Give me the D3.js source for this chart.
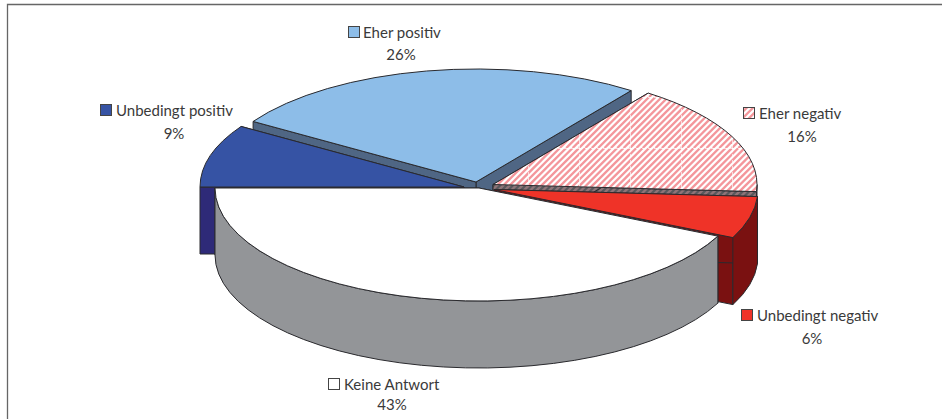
<!DOCTYPE html>
<html>
<head>
<meta charset="utf-8">
<script src="https://cdnjs.cloudflare.com/ajax/libs/d3/7.8.5/d3.min.js"></script>
<style>
  html, body { margin: 0; padding: 0; background: #fff; }
  svg { display: block; }
  text { font-family: Lato, "Open Sans", sans-serif; font-size: 15px; fill: #3a3a3a; }
</style>
</head>
<body>
<svg id="chart" width="942" height="419"></svg>
<script>
// Survey answers, in drawing order around the pie
const categories = ["Keine Antwort", "Unbedingt negativ", "Eher negativ", "Eher positiv", "Unbedingt positiv"];
const shares = [43, 6, 16, 26, 9];
const shareLabels = ["43%", "6%", "16%", "26%", "9%"];

const svg = d3.select("#chart");

// Appearance of each slice, same order as the categories
const topColors = ["#ffffff", "#ef3328", "url(#hatch)", "#8dbde8", "#3653a4"];
const sideColors = ["#939598", "#7a1111", "url(#hatchSide)", "#4f6684", "#2e2a78"];

// Pie geometry: flattened ellipse, extruded downwards
const rx = 264, ry = 113, depth = 67;
const centers = [[479, 188], [494, 189.5], [493, 184.5], [476, 182], [464, 187]];

// Label anchors: key box left edge, text start, centre of the percentage line
const labelPos = [
  { key: 328, text: 344, y: 384, pctX: 392, pctY: 404 },
  { key: 741, text: 757, y: 315, pctX: 812, pctY: 338 },
  { key: 743, text: 759, y: 113, pctX: 802, pctY: 136 },
  { key: 348, text: 363, y: 32,  pctX: 401, pctY: 54 },
  { key: 100, text: 116, y: 110, pctX: 174, pctY: 133 }
];

// Diagonal stripe fills; the top surface also carries faint dashed tile seams
const defs = svg.append("defs");
function stripes(id, bg, fg, seams) {
  const p = defs.append("pattern").attr("id", id)
    .attr("patternUnits", "userSpaceOnUse").attr("width", 51).attr("height", 51)
    .attr("x", 528 - 51).attr("y", 148 - 51);
  p.append("rect").attr("width", 51).attr("height", 51).attr("fill", bg);
  d3.range(-51, 102, 51 / 8).forEach(o => {
    p.append("line").attr("x1", o).attr("y1", 51).attr("x2", o + 51).attr("y2", 0)
      .attr("stroke", fg).attr("stroke-width", 2.3);
  });
  if (seams) {
    p.append("path").attr("d", "M0.5,0V51M0,0.5H51").attr("fill", "none")
      .attr("stroke", "#fff").attr("stroke-width", 0.8).attr("stroke-opacity", 0.8)
      .attr("stroke-dasharray", "4 2");
  }
}
stripes("hatch", "#fff", "#f4969b", true);
stripes("hatchSide", "#58585c", "#8f7478", false);

// Frame: only the top and left rules are present
svg.append("path").attr("d", "M942,4.5H7.5V419").attr("fill", "none")
  .attr("stroke", "#666").attr("stroke-width", 1.3);

// Angles run counter-clockwise starting at nine o'clock
const arcs = d3.pie().sort(null).startAngle(-Math.PI / 2).endAngle(-Math.PI / 2 - 2 * Math.PI)(shares);
const pt = (c, a, dy = 0) => [c[0] + rx * Math.sin(a), c[1] - ry * Math.cos(a) + dy];

function topPath(c, a0, a1) {
  const p0 = pt(c, a0), p1 = pt(c, a1);
  const large = Math.abs(a1 - a0) > Math.PI ? 1 : 0;
  return `M${c}L${p0}A${rx},${ry} 0 ${large} 0 ${p1}Z`;
}
function cutPath(c, a) {
  const p = pt(c, a), q = pt(c, a, depth);
  return `M${c}L${p}L${q}L${c[0]},${c[1] + depth}Z`;
}
function rimPath(c, a0, a1) {
  const p0 = pt(c, a0), p1 = pt(c, a1), q0 = pt(c, a0, depth), q1 = pt(c, a1, depth);
  return `M${p0}A${rx},${ry} 0 0 0 ${p1}L${q1}A${rx},${ry} 0 0 1 ${q0}Z`;
}

// Back-to-front painting: the rearmost slice first, the white one last
const paintOrder = [3, 4, 2, 1, 0];
const pie = svg.append("g").attr("stroke", "#2a2a2e").attr("stroke-width", 1).attr("stroke-linejoin", "round");

paintOrder.forEach(i => {
  const d = arcs[i], c = centers[i], g = pie.append("g").attr("class", "slice");
  const side = sideColors[i];
  g.append("path").attr("d", cutPath(c, d.startAngle)).attr("fill", side);
  g.append("path").attr("d", cutPath(c, d.endAngle)).attr("fill", side);
  // Only the front half of the rim faces the viewer
  const a0 = d.startAngle, a1 = Math.max(d.endAngle, -3 * Math.PI / 2);
  if (a0 > -3 * Math.PI / 2 && a0 <= -Math.PI / 2 && a1 < a0) {
    g.append("path").attr("d", rimPath(c, a0, a1)).attr("fill", side);
  }
  g.append("path").attr("d", topPath(c, d.startAngle, d.endAngle)).attr("fill", topColors[i]);
});

// Legend keys with category name and share beneath
const labels = svg.append("g").selectAll("g").data(categories).join("g");
labels.append("rect")
  .attr("x", (d, i) => labelPos[i].key + 0.5)
  .attr("y", (d, i) => labelPos[i].y - 5.5)
  .attr("width", 11).attr("height", 11)
  .attr("fill", (d, i) => topColors[i])
  .attr("stroke", "#444").attr("stroke-width", 1);
labels.append("text")
  .attr("x", (d, i) => labelPos[i].text)
  .attr("y", (d, i) => labelPos[i].y)
  .attr("dominant-baseline", "central")
  .text(d => d);
labels.append("text")
  .attr("x", (d, i) => labelPos[i].pctX)
  .attr("y", (d, i) => labelPos[i].pctY)
  .attr("text-anchor", "middle")
  .attr("dominant-baseline", "central")
  .text((d, i) => shareLabels[i]);
</script>
</body>
</html>
